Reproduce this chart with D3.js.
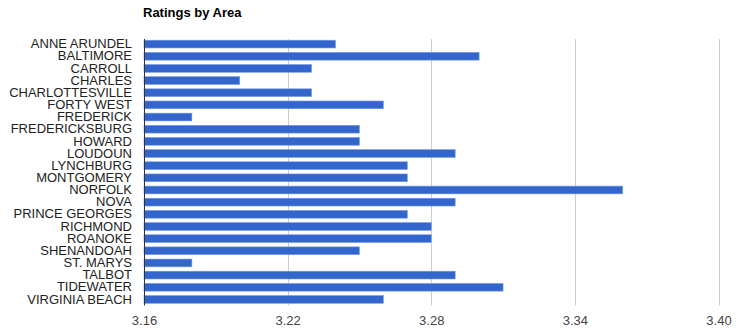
<!DOCTYPE html>
<html>
<head>
<meta charset="utf-8">
<script src="https://cdn.jsdelivr.net/npm/d3@7"></script>
<style>
  html, body { margin: 0; padding: 0; background: #fff; }
  svg { display: block; font-family: Arial, "Liberation Sans", sans-serif; }
</style>
</head>
<body>
<svg id="chart" width="743" height="336"></svg>
<script>
// Average rating per area
const areas = [
  "ANNE ARUNDEL", "BALTIMORE", "CARROLL", "CHARLES", "CHARLOTTESVILLE",
  "FORTY WEST", "FREDERICK", "FREDERICKSBURG", "HOWARD", "LOUDOUN",
  "LYNCHBURG", "MONTGOMERY", "NORFOLK", "NOVA", "PRINCE GEORGES",
  "RICHMOND", "ROANOKE", "SHENANDOAH", "ST. MARYS", "TALBOT",
  "TIDEWATER", "VIRGINIA BEACH"
];
const ratings = [
  3.24, 3.30, 3.23, 3.20, 3.23,
  3.26, 3.18, 3.25, 3.25, 3.29,
  3.27, 3.27, 3.36, 3.29, 3.27,
  3.28, 3.28, 3.25, 3.18, 3.29,
  3.31, 3.26
];
const xTicks = [3.16, 3.22, 3.28, 3.34, 3.40];

const svg = d3.select("#chart");
const plotLeft = 144, plotRight = 718.5, plotTop = 38, plotBottom = 305.5;

const x = d3.scaleLinear().domain([3.16, 3.40]).range([plotLeft, plotRight]);
const y = d3.scaleBand().domain(areas).range([plotTop, plotBottom]).paddingInner(0.36).paddingOuter(0.18);

// Title
svg.append("text")
  .attr("x", 143).attr("y", 16.5)
  .attr("font-size", 13).attr("font-weight", "bold").attr("fill", "#000")
  .text("Ratings by Area");

// Vertical gridlines
svg.append("g")
  .selectAll("line")
  .data(xTicks.slice(1))
  .join("line")
  .attr("x1", d => Math.round(x(d)) + 0.5).attr("x2", d => Math.round(x(d)) + 0.5)
  .attr("y1", plotTop + 1).attr("y2", plotBottom)
  .attr("stroke", "#cccccc").attr("stroke-width", 1);

// Bars
svg.append("g")
  .selectAll("rect")
  .data(areas.map((a, i) => ({ area: a, value: ratings[i] })))
  .join("rect")
  .attr("x", x(3.16))
  .attr("y", d => y(d.area))
  .attr("width", d => x(d.value) - x(3.16))
  .attr("height", y.bandwidth())
  .attr("fill", "#3366cc")
  .attr("stroke", "#7b9be0")
  .attr("stroke-width", 0.6);

// Baseline axis
svg.append("line")
  .attr("x1", plotLeft + 0.5).attr("x2", plotLeft + 0.5)
  .attr("y1", plotTop + 1).attr("y2", plotBottom)
  .attr("stroke", "#333").attr("stroke-width", 1);

// Category labels
const yAxis = d3.axisLeft(y).tickSize(0).tickPadding(12);
const gy = svg.append("g").attr("transform", `translate(${plotLeft},0)`).call(yAxis);
gy.select(".domain").remove();
gy.selectAll("text")
  .attr("font-size", 13)
  .attr("font-family", "Arial, 'Liberation Sans', sans-serif")
  .attr("fill", "#222");

// Value axis labels
const xAxis = d3.axisBottom(x).tickValues(xTicks).tickFormat(d3.format(".2f")).tickSize(0).tickPadding(10);
const gx = svg.append("g").attr("transform", `translate(0,${plotBottom})`).call(xAxis);
gx.select(".domain").remove();
gx.selectAll("text")
  .attr("font-size", 13)
  .attr("font-family", "Arial, 'Liberation Sans', sans-serif")
  .attr("fill", "#444");
</script>
</body>
</html>
